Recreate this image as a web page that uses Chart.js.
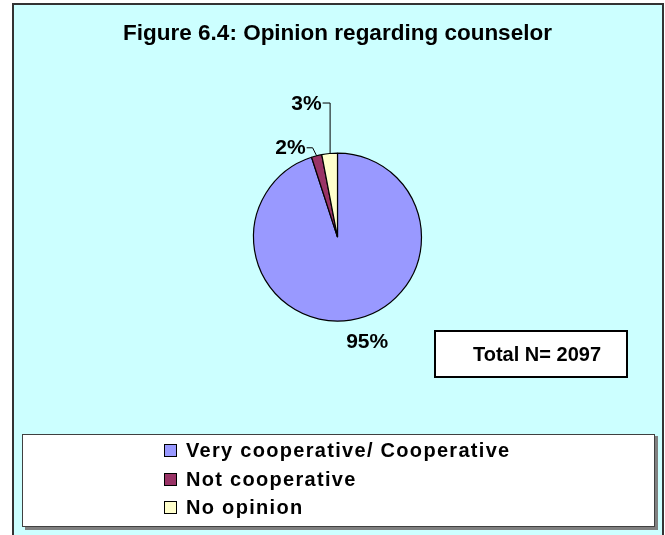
<!DOCTYPE html>
<html>
<head>
<meta charset="utf-8">
<title>Opinion regarding counselor</title>
<script src="https://cdn.jsdelivr.net/npm/chart.js@4/dist/chart.umd.min.js"></script>
<style>
  html, body { margin: 0; padding: 0; background: #ffffff; }
  canvas { display: block; }
</style>
</head>
<body>
<canvas id="chart" width="665" height="535"></canvas>
<script>
// ---- data ----
const chartTitle = 'Figure 6.4: Opinion regarding counselor';
const categories = ['Very cooperative/ Cooperative', 'Not cooperative', 'No opinion'];
const shares = [95, 2, 3];          // percent of respondents
const totalN = 2097;

// ---- styling ----
const sliceColors = ['#9999FF', '#993366', '#FFFFCC'];
const FONT = '"Liberation Sans", Arial, Helvetica, sans-serif';
const panelColor = '#CCFFFF';

// where each percentage label sits, relative to the rim point on the slice bisector
const labelLayout = [
  { leader: null, dx: 16.5, dy: 22.5, align: 'center' },
  { leader: [[0, 0], [-4, -8], [-10, -8]], dx: -11, dy: -8, align: 'right' },
  { leader: [[0.5, 0], [0.5, -50.5], [-7, -50.5]], dx: -8, dy: -49.5, align: 'right' }
];

// panel background and frame
const panelPlugin = {
  id: 'panel',
  beforeDraw(chart) {
    const ctx = chart.ctx;
    ctx.save();
    ctx.fillStyle = '#ffffff';
    ctx.fillRect(0, 0, chart.width, chart.height);
    ctx.fillStyle = panelColor;
    ctx.fillRect(13, 4, 650, chart.height);
    ctx.strokeStyle = '#333333';
    ctx.lineWidth = 2;
    ctx.strokeRect(13, 4, 650, chart.height + 10);
    ctx.restore();
  }
};

// percentage labels with leader lines
const sliceLabelPlugin = {
  id: 'sliceLabels',
  afterDatasetsDraw(chart) {
    const ctx = chart.ctx;
    const meta = chart.getDatasetMeta(0);
    ctx.save();
    ctx.font = 'bold 21px ' + FONT;
    ctx.fillStyle = '#000000';
    ctx.strokeStyle = '#000000';
    ctx.lineWidth = 1;
    ctx.textBaseline = 'middle';
    meta.data.forEach((arc, i) => {
      const p = arc.getProps(['x', 'y', 'startAngle', 'endAngle', 'outerRadius'], true);
      const mid = (p.startAngle + p.endAngle) / 2;
      const ex = p.x + Math.cos(mid) * p.outerRadius;
      const ey = p.y + Math.sin(mid) * p.outerRadius;
      const lay = labelLayout[i];
      if (lay.leader) {
        ctx.beginPath();
        lay.leader.forEach(([lx, ly], k) => {
          if (k === 0) ctx.moveTo(ex + lx, ey + ly);
          else ctx.lineTo(ex + lx, ey + ly);
        });
        ctx.stroke();
      }
      ctx.textAlign = lay.align;
      ctx.fillText(shares[i] + '%', ex + lay.dx, ey + lay.dy);
    });
    ctx.restore();
  }
};

// sample-size note and legend box
const notesPlugin = {
  id: 'notes',
  afterDraw(chart) {
    const ctx = chart.ctx;
    const ds = chart.data.datasets[0];
    ctx.save();

    // Total N box
    ctx.fillStyle = '#ffffff';
    ctx.fillRect(434, 330, 194, 48);
    ctx.strokeStyle = '#000000';
    ctx.lineWidth = 2;
    ctx.strokeRect(435, 331, 192, 46);
    ctx.fillStyle = '#000000';
    ctx.font = 'bold 20px ' + FONT;
    ctx.textAlign = 'center';
    ctx.textBaseline = 'middle';
    ctx.fillText('Total N= ' + totalN, 537, 355);

    // legend box with shadow
    ctx.fillStyle = '#808080';
    ctx.fillRect(25, 436, 633, 94);
    ctx.fillStyle = '#ffffff';
    ctx.fillRect(22, 434, 633, 93);
    ctx.strokeStyle = '#404040';
    ctx.lineWidth = 1;
    ctx.strokeRect(22.5, 434.5, 632, 92);

    ctx.font = 'bold 20px ' + FONT;
    ctx.textAlign = 'left';
    ctx.textBaseline = 'middle';
    if ('letterSpacing' in ctx) ctx.letterSpacing = '1.3px';
    const rows = [450, 479, 507];
    chart.data.labels.forEach((lab, i) => {
      const y = rows[i];
      ctx.fillStyle = ds.backgroundColor[i];
      ctx.fillRect(164, y - 6, 12, 12);
      ctx.strokeStyle = '#000000';
      ctx.lineWidth = 1;
      ctx.strokeRect(164.5, y - 5.5, 12, 12);
      ctx.fillStyle = '#000000';
      ctx.fillText(lab, 186, y + 1);
    });
    ctx.restore();
  }
};

new Chart(document.getElementById('chart'), {
  type: 'pie',
  data: {
    labels: categories,
    datasets: [{
      data: shares,
      backgroundColor: sliceColors,
      borderColor: '#000000',
      borderWidth: 1.2,
      radius: 84
    }]
  },
  options: {
    responsive: false,
    devicePixelRatio: 1,
    animation: false,
    layout: { padding: { left: 10, right: 0, top: 0, bottom: 198 } },
    plugins: {
      legend: { display: false },
      tooltip: { enabled: false },
      title: {
        display: true,
        text: chartTitle,
        color: '#000000',
        font: { family: FONT, size: 22.5, weight: 'bold', lineHeight: 1.2 },
        padding: { top: 20, bottom: 90.3 }
      }
    }
  },
  plugins: [panelPlugin, sliceLabelPlugin, notesPlugin]
});
</script>
</body>
</html>
